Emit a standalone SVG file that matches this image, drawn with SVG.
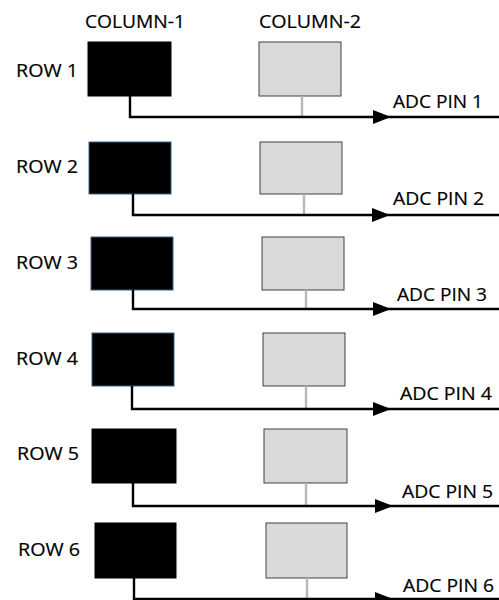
<svg xmlns="http://www.w3.org/2000/svg" width="499" height="600" viewBox="0 0 499 600">
  <style>
    text { font-family: "Open Sans", "Liberation Sans", sans-serif; font-size: 18px; fill: #000; stroke: #000; stroke-width: 0.2; }
    .c1 { fill: #000; stroke: #000; stroke-width: 1; }
    .c1b { fill: #000; stroke: #3a5f85; stroke-width: 1; }
    .c2 { fill: #d9d9d9; stroke: #404040; stroke-width: 1; }
    .wire { fill: none; stroke: #000; stroke-width: 2.4; }
    .tap { fill: none; stroke: #b8b8b8; stroke-width: 2.4; }
    .head { fill: #000; }
  </style>
  <rect width="499" height="600" fill="#fff"/>

  <g id="headers">
    <text x="85" y="28" textLength="100" lengthAdjust="spacingAndGlyphs">COLUMN-1</text>
    <text x="259" y="28" textLength="102" lengthAdjust="spacingAndGlyphs">COLUMN-2</text>
  </g>

  <!-- row labels -->
  <g id="row-labels">
    <text x="16" y="77" textLength="62" lengthAdjust="spacingAndGlyphs">ROW 1</text>
    <text x="16" y="173" textLength="62" lengthAdjust="spacingAndGlyphs">ROW 2</text>
    <text x="16" y="269" textLength="62" lengthAdjust="spacingAndGlyphs">ROW 3</text>
    <text x="16" y="365" textLength="62" lengthAdjust="spacingAndGlyphs">ROW 4</text>
    <text x="17" y="460" textLength="62" lengthAdjust="spacingAndGlyphs">ROW 5</text>
    <text x="18" y="556" textLength="62" lengthAdjust="spacingAndGlyphs">ROW 6</text>
  </g>

  <!-- column-1 cells -->
  <g id="r1c1"><rect class="c1" x="88" y="42" width="83" height="54"/></g>
  <g id="r2c1"><rect class="c1b" x="89" y="142" width="82" height="52"/></g>
  <g id="r3c1"><rect class="c1b" x="91" y="237" width="82" height="53"/></g>
  <g id="r4c1"><rect class="c1b" x="92" y="333" width="82" height="53"/></g>
  <g id="r5c1"><rect class="c1" x="92" y="429" width="84" height="54"/></g>
  <g id="r6c1"><rect class="c1" x="95" y="523" width="81" height="55"/></g>

  <!-- column-2 cells -->
  <g id="r1c2"><rect class="c2" x="259" y="42" width="82" height="54"/></g>
  <g id="r2c2"><rect class="c2" x="260" y="142" width="82" height="52"/></g>
  <g id="r3c2"><rect class="c2" x="262" y="237" width="82" height="53"/></g>
  <g id="r4c2"><rect class="c2" x="263" y="333" width="82" height="53"/></g>
  <g id="r5c2"><rect class="c2" x="264" y="429" width="83" height="54"/></g>
  <g id="r6c2"><rect class="c2" x="266" y="523" width="81" height="55"/></g>

  <!-- ADC pin labels -->
  <g id="adc-labels">
    <text x="393" y="108" textLength="90" lengthAdjust="spacingAndGlyphs">ADC PIN 1</text>
    <text x="393" y="205" textLength="91" lengthAdjust="spacingAndGlyphs">ADC PIN 2</text>
    <text x="397" y="301" textLength="90" lengthAdjust="spacingAndGlyphs">ADC PIN 3</text>
    <text x="400" y="400" textLength="92" lengthAdjust="spacingAndGlyphs">ADC PIN 4</text>
    <text x="402" y="498" textLength="91" lengthAdjust="spacingAndGlyphs">ADC PIN 5</text>
    <text x="403" y="592" textLength="91" lengthAdjust="spacingAndGlyphs">ADC PIN 6</text>
  </g>

  <!-- connectors: column taps feeding each ADC line -->
  <g id="connectors">
    <line class="tap" x1="302" y1="96" x2="302" y2="117"/>
    <line class="tap" x1="304" y1="194" x2="304" y2="215"/>
    <line class="tap" x1="306" y1="290" x2="306" y2="309"/>
    <line class="tap" x1="306" y1="386" x2="306" y2="409"/>
    <line class="tap" x1="306" y1="483" x2="306" y2="506"/>
    <line class="tap" x1="307" y1="578" x2="307" y2="599"/>

    <path class="wire" d="M130 96 V117 H499"/>
    <path class="wire" d="M133 194 V215 H499"/>
    <path class="wire" d="M133 290 V309 H499"/>
    <path class="wire" d="M132 386 V409 H499"/>
    <path class="wire" d="M133 483 V506 H499"/>
    <path class="wire" d="M134 578 V599 H499"/>

    <polygon class="head" points="373,110 391,117 373,124"/>
    <polygon class="head" points="372,208 390,215 372,222"/>
    <polygon class="head" points="373,302 391,309 373,316"/>
    <polygon class="head" points="373,402 391,409 373,416"/>
    <polygon class="head" points="375,499 393,506 375,513"/>
    <polygon class="head" points="375,592 393,599 375,606"/>
  </g>
</svg>
